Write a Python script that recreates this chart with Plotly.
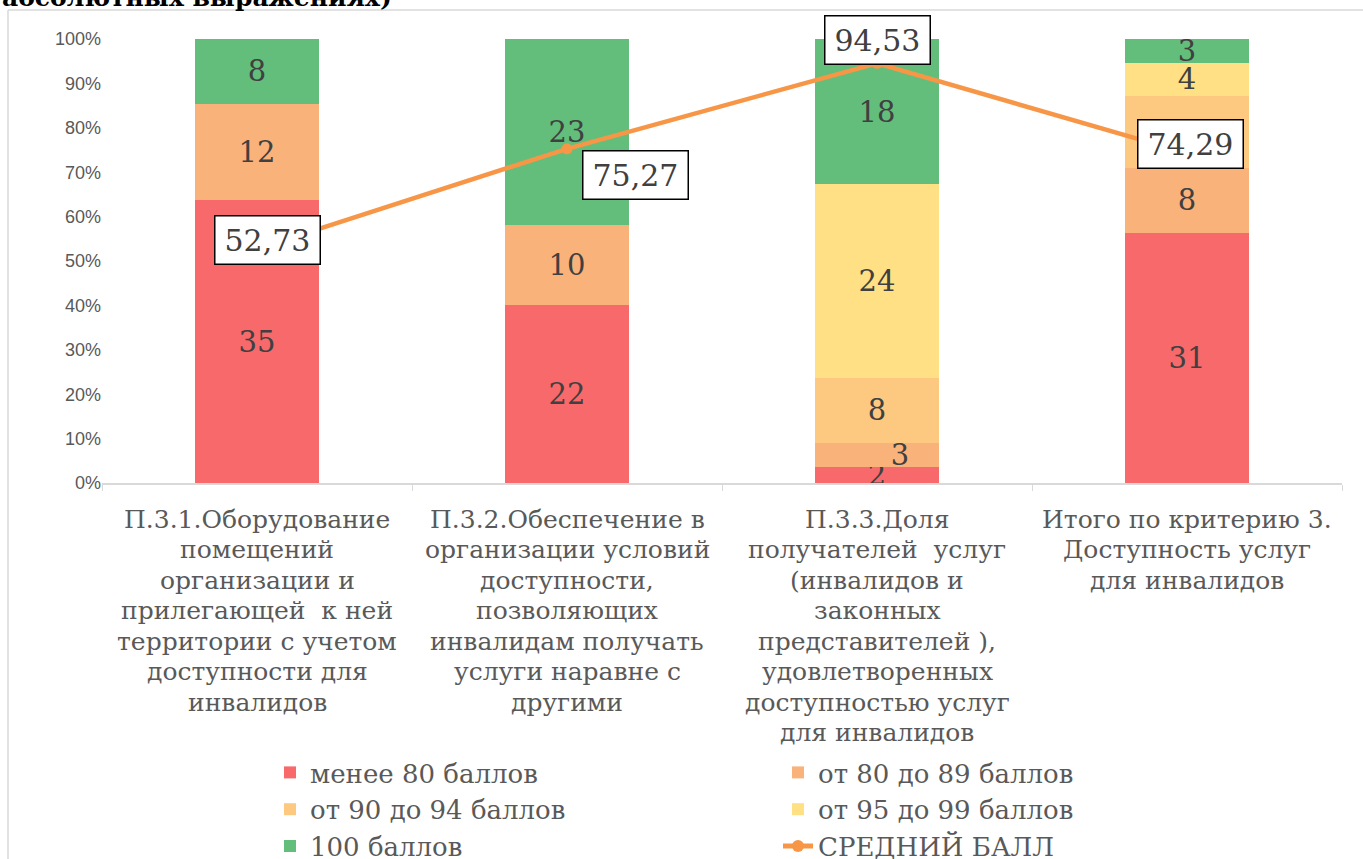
import plotly.graph_objects as go

categories = ["c1", "c2", "c3", "c4"]
category_lines = [
    ["П.3.1.Оборудование", "помещений", "организации и", "прилегающей  к ней",
     "территории с учетом", "доступности для", "инвалидов"],
    ["П.3.2.Обеспечение в", "организации условий", "доступности,", "позволяющих",
     "инвалидам получать", "услуги наравне с", "другими"],
    ["П.3.3.Доля", "получателей  услуг", "(инвалидов и", "законных",
     "представителей ),", "удовлетворенных", "доступностью услуг", "для инвалидов"],
    ["Итого по критерию 3.", "Доступность услуг", "для инвалидов"],
]
series_names = ["менее 80 баллов", "от 80 до 89 баллов", "от 90 до 94 баллов",
                "от 95 до 99 баллов", "100 баллов"]
series_values = [
    [35, 22, 2, 31],
    [12, 10, 3, 8],
    [0, 0, 8, 9],
    [0, 0, 24, 4],
    [8, 23, 18, 3],
]
series_colors = ["#F8696B", "#FAB27B", "#FDC981", "#FFE084", "#63BE7B"]
# label padding (non-breaking spaces) to push a crowded label sideways
label_pad = [
    [0, 0, 0, 0],
    [0, 0, 5, 0],
    [0, 0, 0, 0],
    [0, 0, 0, 0],
    [0, 0, 0, 0],
]
avg_name = "СРЕДНИЙ БАЛЛ"
avg_values = [52.73, 75.27, 94.53, 74.29]
avg_labels = ["52,73", "75,27", "94,53", "74,29"]
avg_label_shift = [(10, 9), (68, -26), (0, 23), (3, 9)]

W, H = 1363, 859
L, R, T, B = 102, 21, 39, 376
PW, PH = W - L - R, H - T - B

serif = "DejaVu Serif"
fig = go.Figure()
for name, vals, col, pads in zip(series_names, series_values, series_colors, label_pad):
    txt = [("\u00a0" * p + str(v)) if v else "" for v, p in zip(vals, pads)]
    fig.add_trace(go.Bar(
        x=categories, y=vals, name=name, marker=dict(color=col, line=dict(width=0)),
        text=txt, textposition="inside", textangle=0,
        insidetextanchor="middle", constraintext="none",
        textfont=dict(family=serif, size=29, color="#404040"),
        hoverinfo="skip", cliponaxis=False,
    ))

fig.add_trace(go.Scatter(
    x=categories, y=[v / 100 for v in avg_values], name=avg_name, mode="lines+markers",
    line=dict(color="#F79646", width=4.5), marker=dict(size=11, color="#F79646"),
))

for c, lab, v, (dx, dy) in zip(categories, avg_labels, avg_values, avg_label_shift):
    fig.add_annotation(x=c, y=v / 100, xref="x", yref="y",
                       text="\u200a" + lab + "\u200a", showarrow=False,
                       xshift=dx, yshift=dy, bgcolor="white", bordercolor="black",
                       borderwidth=1.5, borderpad=6,
                       font=dict(family=serif, size=30, color="#404040"))

for c, lines in zip(categories, category_lines):
    for i, ln in enumerate(lines):
        ypx = 519 + 30.5 * i
        fig.add_annotation(x=c, xref="x", y=(T + PH - ypx) / PH, yref="paper",
                           text=ln, showarrow=False, yanchor="middle",
                           font=dict(family=serif, size=25, color="#595959"))

fig.add_annotation(x=-L / PW, y=(T + PH + 3) / PH, xref="paper", yref="paper",
                   xanchor="left", yanchor="middle", text="<b>абсолютных выражениях)</b>",
                   showarrow=False, font=dict(family=serif, size=25, color="black"))

# chart frame
fig.add_shape(type="line", xref="paper", yref="paper", x0=(8 - L) / PW, x1=(W - L) / PW,
              y0=(T + PH - 10) / PH, y1=(T + PH - 10) / PH,
              line=dict(color="#D9D9D9", width=1.5))
fig.add_shape(type="line", xref="paper", yref="paper", x0=(8 - L) / PW, x1=(8 - L) / PW,
              y0=(T + PH - 10) / PH, y1=(T + PH - H) / PH,
              line=dict(color="#D9D9D9", width=1.5))

fig.update_layout(
    width=W, height=H, margin=dict(l=L, r=R, t=T, b=B, autoexpand=False),
    barmode="stack", barnorm="fraction", bargap=0.6,
    plot_bgcolor="white", paper_bgcolor="white",
    showlegend=True,
    legend=dict(orientation="h", x=(270 - L) / PW, y=(T + PH - 749) / PH,
                xanchor="left", yanchor="top", entrywidth=463, entrywidthmode="pixels",
                traceorder="normal", font=dict(family=serif, size=26, color="#595959"),
                tracegroupgap=0, itemsizing="constant"),
    xaxis=dict(showticklabels=False, ticks="outside", tickson="boundaries",
               ticklen=6, tickcolor="#D9D9D9", showline=True, linecolor="#D9D9D9",
               linewidth=1.5, showgrid=False),
    yaxis=dict(range=[0, 1], tickformat=".0%", dtick=0.1, showgrid=False,
               showline=False, zeroline=False,
               tickfont=dict(family="Liberation Sans", size=18, color="#595959")),
)

fig.write_html("out.html", config={"displayModeBar": False},
               post_script="document.body.style.margin='0';")
